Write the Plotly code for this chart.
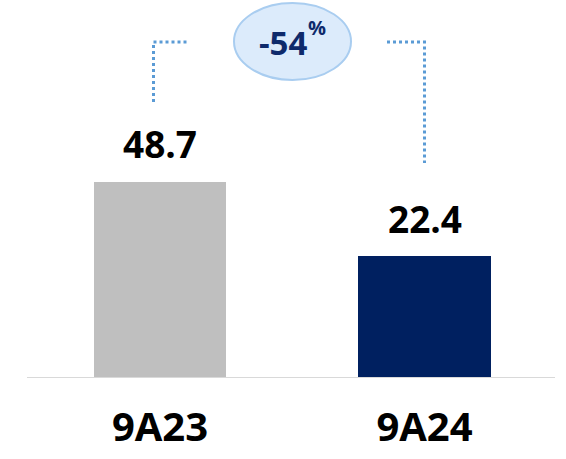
import plotly.graph_objects as go

# ---- data ----
categories = ["9A23", "9A24"]
values = [48.7, 22.4]
value_labels = ["48.7", "22.4"]
bar_colors = ["#BFBFBF", "#002060"]
change_label = "-54"
change_unit = "%"

W, H = 566, 459
PLOT_H = 378  # plot area height in px (margin t=0)
y_base = -20.96
y_top = 113.38
x_lo, x_hi = -0.605, 1.535

def px_x(p):
    return x_lo + (x_hi - x_lo) * p / W

def px_y(p):
    return y_top - (y_top - y_base) * p / PLOT_H

FONT = "Open Sans"

fig = go.Figure()
fig.add_trace(go.Bar(
    x=list(range(len(categories))),
    y=[v - y_base for v in values],
    base=y_base,
    width=0.5,
    marker=dict(color=bar_colors, line=dict(width=0)),
    hoverinfo="skip",
))

annotations = []
for i, (v, lab) in enumerate(zip(values, value_labels)):
    annotations.append(dict(
        x=i, y=v, xref="x", yref="y", text="<b>%s</b>" % lab,
        showarrow=False, yanchor="middle", yshift=38,
        font=dict(family=FONT, size=37, color="#000000"),
    ))

shapes = []
# baseline
shapes.append(dict(type="line", xref="x", yref="y",
                   x0=px_x(27), x1=px_x(555), y0=y_base, y1=y_base,
                   line=dict(color="#D9D9D9", width=2), layer="above"))
# ellipse
shapes.append(dict(type="circle", xref="x", yref="y",
                   x0=px_x(234), x1=px_x(351), y0=px_y(80), y1=px_y(3),
                   fillcolor="#DCEBFB", line=dict(color="#A9CDF0", width=2)))
# dotted connectors
dot = dict(color="#5B9BD5", width=3, dash="dot")
shapes.append(dict(type="path", xref="x", yref="y",
                   path="M %f,%f L %f,%f L %f,%f" % (px_x(153.5), px_y(102), px_x(153.5), px_y(42), px_x(188), px_y(42)),
                   line=dot))
shapes.append(dict(type="path", xref="x", yref="y",
                   path="M %f,%f L %f,%f L %f,%f" % (px_x(387), px_y(42), px_x(424.5), px_y(42), px_x(424.5), px_y(163)),
                   line=dot))

annotations.append(dict(
    x=px_x(283), y=px_y(42), xref="x", yref="y", text="<b>%s</b>" % change_label,
    showarrow=False, xanchor="center", yanchor="middle",
    font=dict(family=FONT, size=33, color="#0E2A6B"),
))
annotations.append(dict(
    x=px_x(317), y=px_y(27), xref="x", yref="y", text="<b>%s</b>" % change_unit,
    showarrow=False, xanchor="center", yanchor="middle",
    font=dict(family=FONT, size=20, color="#0E2A6B"),
))

fig.update_layout(
    width=W, height=H,
    margin=dict(l=0, r=0, t=0, b=H - PLOT_H, pad=0),
    paper_bgcolor="white", plot_bgcolor="white",
    showlegend=False,
    bargap=0,
    xaxis=dict(range=[x_lo, x_hi], tickmode="array",
               tickvals=list(range(len(categories))),
               ticktext=["<b>%s</b>" % c for c in categories],
               tickfont=dict(family=FONT, size=40, color="#000000"),
               showgrid=False, zeroline=False, showline=False, ticks="",
               ticklabelstandoff=22, fixedrange=True),
    yaxis=dict(range=[y_base, y_top], visible=False, fixedrange=True),
    shapes=shapes,
    annotations=annotations,
)

fig.write_html("out.html")
